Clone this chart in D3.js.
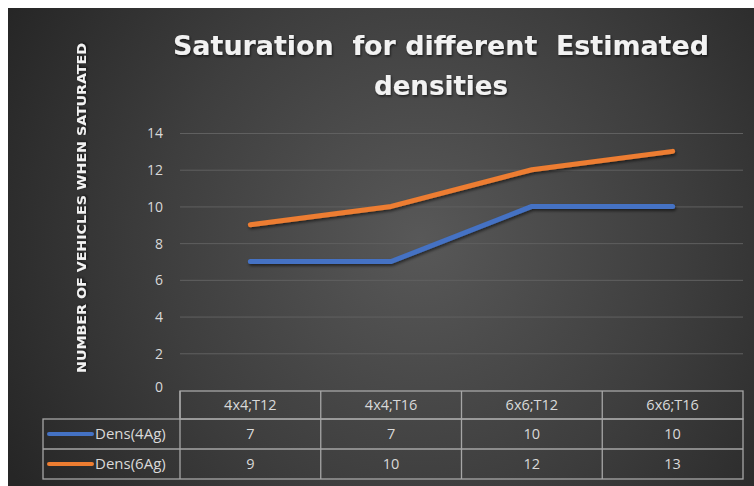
<!DOCTYPE html>
<html>
<head>
<meta charset="utf-8">
<script src="https://cdn.jsdelivr.net/npm/d3@7/dist/d3.min.js"></script>
<style>
  html, body { margin: 0; padding: 0; background: #ffffff; }
  svg { display: block; }
</style>
</head>
<body>
<svg id="chart" width="754" height="486"></svg>
<script>
const categories = ["4x4;T12", "4x4;T16", "6x6;T12", "6x6;T16"];
const seriesNames = ["Dens(4Ag)", "Dens(6Ag)"];
const dens4Ag = [7, 7, 10, 10];
const dens6Ag = [9, 10, 12, 13];
const yTicks = [0, 2, 4, 6, 8, 10, 12, 14];
const titleLines = ["Saturation  for different  Estimated", "densities"];
const yLabel = "NUMBER OF VEHICLES WHEN SATURATED";
const seriesColors = ["#4472C4", "#ED7D31"];

const series = [
  { name: seriesNames[0], values: dens4Ag, color: seriesColors[0] },
  { name: seriesNames[1], values: dens6Ag, color: seriesColors[1] }
];

const FONT = "'Open Sans', 'Liberation Sans', sans-serif";
const CFONT = "'DejaVu Sans Condensed', 'DejaVu Sans', sans-serif";
const svg = d3.select("#chart");
const defs = svg.append("defs");

const grad = defs.append("radialGradient")
  .attr("id", "bg").attr("gradientUnits", "userSpaceOnUse")
  .attr("cx", 420).attr("cy", 240).attr("r", 470);
grad.append("stop").attr("offset", "0%").attr("stop-color", "#585858");
grad.append("stop").attr("offset", "55%").attr("stop-color", "#3e3e3e");
grad.append("stop").attr("offset", "100%").attr("stop-color", "#262626");

const shadow = defs.append("filter").attr("id", "shadow")
  .attr("x", "-10%").attr("y", "-30%").attr("width", "130%").attr("height", "180%");
shadow.append("feDropShadow").attr("dx", 1).attr("dy", 2)
  .attr("stdDeviation", 1.8).attr("flood-color", "#000").attr("flood-opacity", 0.55);

const tshadow = defs.append("filter").attr("id", "tshadow")
  .attr("x", "-5%").attr("y", "-20%").attr("width", "110%").attr("height", "150%");
tshadow.append("feDropShadow").attr("dx", 1).attr("dy", 1.5)
  .attr("stdDeviation", 1.2).attr("flood-color", "#000").attr("flood-opacity", 0.6);

svg.append("rect").attr("x", 8).attr("y", 8).attr("width", 746).attr("height", 478)
  .attr("fill", "url(#bg)");

// Plot geometry
const plotLeft = 180, plotRight = 743, plotTop = 133, plotBottom = 390;
const x = d3.scaleBand().domain(categories).range([plotLeft, plotRight]).padding(0);
const y = d3.scaleLinear().domain([0, 14]).range([plotBottom, plotTop]);

// Gridlines
const grid = svg.append("g").attr("transform", `translate(${plotLeft},0)`)
  .call(d3.axisLeft(y).tickValues(yTicks).tickSize(-(plotRight - plotLeft)).tickFormat(""));
grid.select(".domain").remove();
grid.selectAll("line").attr("stroke", "#606060").attr("stroke-width", 1)
  .filter(d => d === 0).remove();

// Y axis labels
const yAxis = svg.append("g").attr("transform", `translate(163,0)`)
  .call(d3.axisLeft(y).tickValues(yTicks).tickSize(0).tickPadding(0));
yAxis.select(".domain").remove();
yAxis.selectAll("text")
  .attr("fill", "#d9d9d9")
  .attr("font-family", FONT)
  .attr("font-size", 14)
  .attr("dy", "0.35em");
yAxis.selectAll("g.tick").filter(d => d === 0).select("text").attr("dy", "0.1em");

// Lines
const line = d3.line().x((d, i) => x(categories[i]) + x.bandwidth() / 2).y(d => y(d));
svg.append("g").selectAll("path").data(series).join("path")
  .attr("d", d => line(d.values))
  .attr("fill", "none")
  .attr("stroke", d => d.color)
  .attr("stroke-width", 5)
  .attr("stroke-linecap", "round")
  .attr("stroke-linejoin", "round")
  .attr("filter", "url(#shadow)");

// Title
svg.append("g").selectAll("text").data(titleLines).join("text")
  .attr("x", 441)
  .attr("y", (d, i) => 55 + i * 40)
  .attr("text-anchor", "middle")
  .attr("fill", "#f2f2f2")
  .attr("font-family", CFONT)
  .attr("font-weight", "bold")
  .attr("font-size", 26)
  .attr("textLength", (d, i) => i === 0 ? 536 : 134)
  .attr("lengthAdjust", "spacingAndGlyphs")
  .attr("filter", "url(#tshadow)")
  .style("white-space", "pre")
  .text(d => d);

// Y axis title
svg.append("text")
  .attr("transform", "translate(86,208) rotate(-90)")
  .attr("text-anchor", "middle")
  .attr("fill", "#f2f2f2")
  .attr("font-family", CFONT)
  .attr("font-weight", "bold")
  .attr("font-size", 13)
  .attr("textLength", 330)
  .attr("lengthAdjust", "spacingAndGlyphs")
  .attr("filter", "url(#tshadow)")
  .text(yLabel);

// Data table
const headTop = 391, headBottom = 419, rowH = 30, legendLeft = 43;
const tableColor = "#a6a6a6";
const tbl = svg.append("g").attr("fill", "none").attr("stroke", tableColor).attr("stroke-width", 1.3);
tbl.append("rect").attr("x", plotLeft).attr("y", headTop)
  .attr("width", plotRight - plotLeft).attr("height", headBottom - headTop);
tbl.append("rect").attr("x", legendLeft).attr("y", headBottom)
  .attr("width", plotRight - legendLeft).attr("height", rowH * series.length);
tbl.selectAll("line.row").data(series.slice(1)).join("line")
  .attr("x1", legendLeft).attr("x2", plotRight)
  .attr("y1", (d, i) => headBottom + rowH * (i + 1)).attr("y2", (d, i) => headBottom + rowH * (i + 1));
tbl.selectAll("line.col").data(categories).join("line")
  .attr("x1", d => x(d)).attr("x2", d => x(d))
  .attr("y1", headTop).attr("y2", headBottom + rowH * series.length);

const txt = svg.append("g")
  .attr("fill", "#d9d9d9")
  .attr("font-family", FONT)
  .attr("font-size", 14.5)
  .attr("text-anchor", "middle");
txt.selectAll("text.head").data(categories).join("text")
  .attr("x", d => x(d) + x.bandwidth() / 2)
  .attr("y", (headTop + headBottom) / 2)
  .attr("dy", "0.35em")
  .text(d => d);

series.forEach((s, si) => {
  const cy = headBottom + rowH * si + rowH / 2;
  txt.selectAll(null).data(s.values).join("text")
    .attr("x", (d, i) => x(categories[i]) + x.bandwidth() / 2)
    .attr("y", cy).attr("dy", "0.35em")
    .text(d => d);
  svg.append("line")
    .attr("x1", 49).attr("x2", 92).attr("y1", cy).attr("y2", cy)
    .attr("stroke", s.color).attr("stroke-width", 4).attr("stroke-linecap", "round");
  svg.append("text")
    .attr("x", 95).attr("y", cy).attr("dy", "0.35em")
    .attr("fill", "#d9d9d9")
    .attr("font-family", FONT)
    .attr("font-size", 15)
    .text(s.name);
});
</script>
</body>
</html>
